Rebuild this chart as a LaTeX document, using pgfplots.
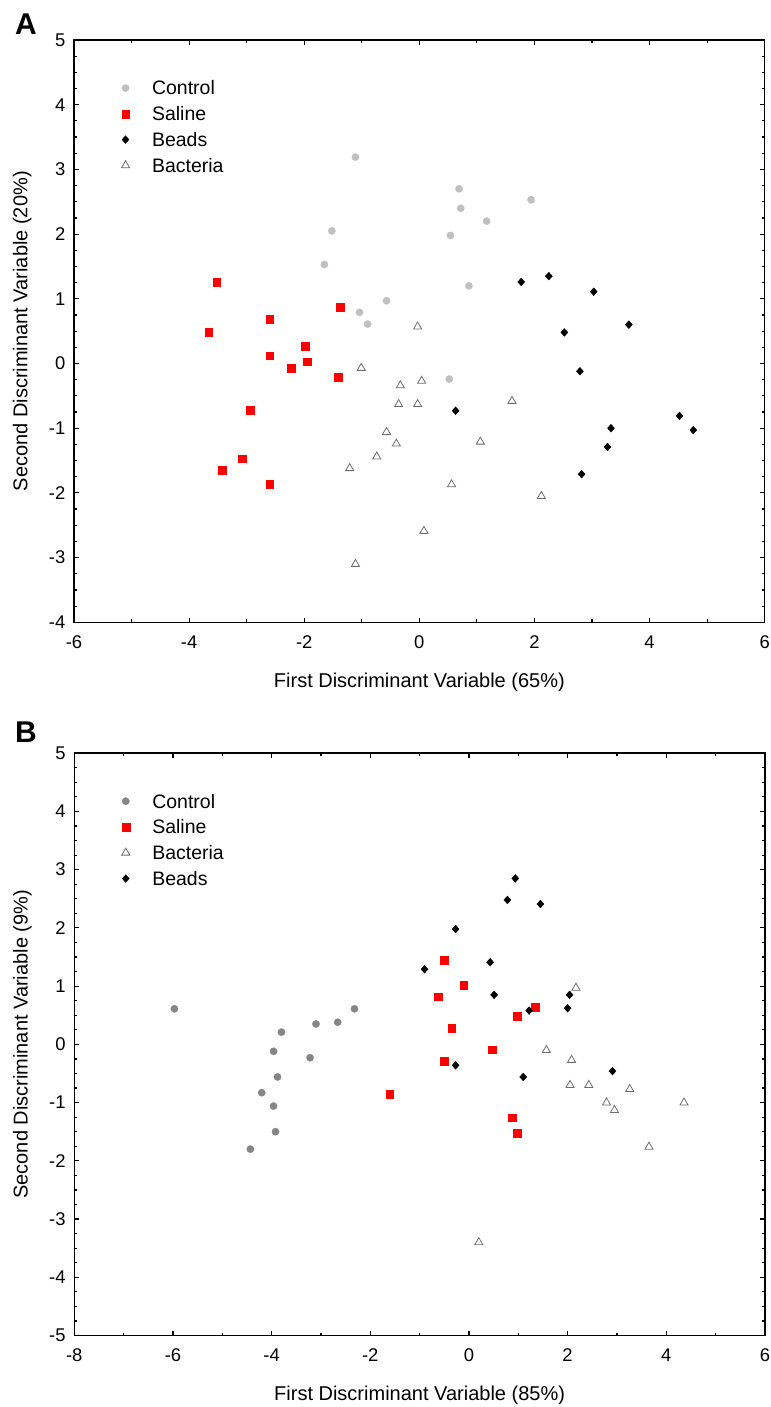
\documentclass[border=0pt]{standalone}
\usepackage{fontspec}
\setmainfont{Liberation Sans}
\usepackage{pgfplots}
\pgfplotsset{compat=1.18}
\definecolor{ctrlA}{HTML}{C0C0C0}
\definecolor{ctrlB}{HTML}{858585}
\definecolor{bact}{HTML}{6E6E6E}
\pgfplotsset{
  panel/.style={
    scale only axis, width=518pt, height=436.7pt,
    clip=false,
    axis line style={line width=1.1pt},
    tick align=inside, xtick pos=both, ytick pos=both,
    major tick length=3.5pt, minor tick length=2.2pt,
    every tick/.style={black, line width=0.9pt},
    minor x tick num=1, minor y tick num=3,
    tick label style={font=\fontsize{13.8}{15}\selectfont},
    label style={font=\fontsize{15}{17}\selectfont},
    /pgf/number format/assume math mode=true,
    xticklabel style={yshift=-6.5pt},
    yticklabel style={xshift=-3pt},
    xlabel style={at={(axis description cs:0.5,-0.103)}, anchor=center},
    ylabel style={at={(axis description cs:-0.075,0.5)}, anchor=center},
    legend cell align=left,
    legend style={draw=none, fill=none, inner sep=0pt, outer sep=0pt,
      at={(axis description cs:0,1)}, anchor=north west,
      xshift=35.6pt, yshift=-30.8pt,
      font=\fontsize{14.6}{16}\selectfont,
      nodes={inner sep=0pt, text height=10.4pt, text depth=0pt},
      row sep=8.95pt, column sep=16.9pt},
  },
  mk/.style={only marks,
    legend image code/.code={\draw[##1] plot coordinates {(0pt,0pt)};}},
  ctrlAstyle/.style={mk, mark=*, mark size=2.75pt, mark options={draw=ctrlA, fill=ctrlA, line width=0.2pt}},
  ctrlBstyle/.style={mk, mark=*, mark size=2.75pt, mark options={draw=ctrlB, fill=ctrlB, line width=0.2pt}},
  salstyle/.style={mk, mark=square*, mark size=2.9pt, mark options={draw=red, fill=red, line width=0.2pt}},
  beadstyle/.style={mk, mark=diamond*, mark size=2.9pt, mark options={draw=black, fill=black, line width=0.3pt, xscale=1.2}},
  bactstyle/.style={mk, mark=triangle, mark size=3.5pt, mark options={draw=bact, fill=white, line width=0.6pt}},
}
\begin{document}
\begin{tikzpicture}
\path[use as bounding box] (0pt,0pt) rectangle (578.25pt,-1055.25pt);
\node[font=\bfseries\fontsize{22.5}{24}\selectfont] at (19.5pt,-18pt) {A};
\node[font=\bfseries\fontsize{22.5}{24}\selectfont] at (19.5pt,-549pt) {B};
% ---------------- Panel A ----------------
\begin{axis}[panel, at={(55.5pt,-466.7pt)}, anchor=south west,
  xmin=-6, xmax=6, ymin=-4, ymax=5,
  xtick={-6,-4,...,6}, ytick={-4,-3,...,5},
  xlabel={First Discriminant Variable (65\%)},
  ylabel={Second Discriminant Variable (20\%)}]
\addplot[ctrlAstyle] coordinates {
(-1.11,3.19) (-1.52,2.05) (0.54,1.98) (-1.65,1.53) (-0.57,0.97) (-1.04,0.79)
(-0.90,0.61) (0.69,2.70) (0.72,2.40) (1.17,2.20) (1.94,2.53) (0.86,1.20) (0.52,-0.24)};
\addlegendentry{Control}
\addplot[salstyle] coordinates {
(-3.52,1.26) (-1.38,0.87) (-2.60,0.69) (-3.66,0.48) (-1.99,0.27) (-2.60,0.12)
(-1.95,0.03) (-2.23,-0.07) (-1.41,-0.21) (-2.94,-0.72) (-3.08,-1.47) (-3.42,-1.65) (-2.60,-1.87)};
\addlegendentry{Saline}
\addplot[beadstyle] coordinates {
(1.77,1.26) (2.25,1.35) (3.03,1.11) (3.64,0.60) (2.52,0.48) (2.79,-0.12)
(0.63,-0.73) (4.52,-0.81) (3.33,-1.00) (4.76,-1.03) (3.27,-1.29) (2.82,-1.71)};
\addlegendentry{Beads}
\addplot[bactstyle] coordinates {
(-0.03,0.57) (-1.01,-0.07) (-0.33,-0.34) (0.04,-0.27) (-0.36,-0.63) (-0.03,-0.63)
(-0.57,-1.06) (-0.40,-1.24) (-0.74,-1.44) (-1.21,-1.62) (0.08,-2.59) (-1.11,-3.10)
(1.61,-0.58) (1.06,-1.21) (0.56,-1.87) (2.12,-2.05)};
\addlegendentry{Bacteria}
\end{axis}
% ---------------- Panel B ----------------
\begin{axis}[panel, at={(55.7pt,-1001.6pt)}, anchor=south west,
  xmin=-8, xmax=6, ymin=-5, ymax=5,
  xtick={-8,-6,...,6}, ytick={-5,-4,...,5},
  xlabel={First Discriminant Variable (85\%)},
  ylabel={Second Discriminant Variable (9\%)}]
\addplot[ctrlBstyle] coordinates {
(-5.97,0.61) (-2.32,0.61) (-2.66,0.38) (-3.10,0.35) (-3.80,0.21) (-3.96,-0.12)
(-3.22,-0.23) (-3.88,-0.56) (-4.20,-0.83) (-3.96,-1.06) (-3.92,-1.50) (-4.43,-1.80)};
\addlegendentry{Control}
\addplot[salstyle] coordinates {
(-0.50,1.45) (-0.11,1.02) (-0.62,0.82) (1.34,0.64) (0.98,0.48) (-0.35,0.28)
(0.47,-0.09) (-0.50,-0.29) (-1.61,-0.86) (0.87,-1.26) (0.98,-1.53)};
\addlegendentry{Saline}
\addplot[bactstyle] coordinates {
(2.17,0.97) (1.57,-0.10) (2.08,-0.27) (2.05,-0.70) (2.43,-0.70) (3.26,-0.77)
(2.79,-1.00) (2.95,-1.13) (4.36,-1.00) (3.65,-1.76) (0.20,-3.40)};
\addlegendentry{Bacteria}
\addplot[beadstyle] coordinates {
(0.94,2.85) (0.78,2.48) (1.45,2.41) (-0.27,1.98) (0.43,1.41) (-0.90,1.29)
(0.51,0.85) (2.04,0.85) (1.22,0.58) (2.00,0.62) (-0.27,-0.36) (1.10,-0.56) (2.91,-0.46)};
\addlegendentry{Beads}
\end{axis}
\end{tikzpicture}
\end{document}
